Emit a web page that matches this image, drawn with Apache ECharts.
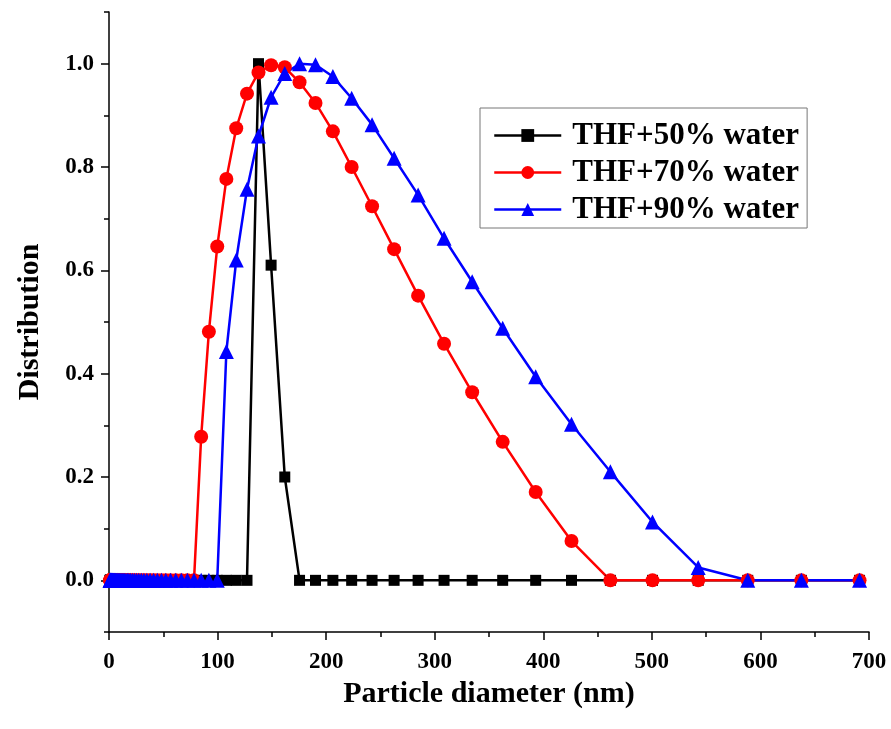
<!DOCTYPE html>
<html>
<head>
<meta charset="utf-8">
<script src="https://cdn.jsdelivr.net/npm/echarts@6/dist/echarts.min.js"></script>
<style>
  html, body { margin: 0; padding: 0; background: #fff; }
  #chart { width: 891px; height: 729px; }
</style>
</head>
<body>
<div id="chart"></div>
<script>
// particle size bins (nm)
const sizes = [
  1.0, 1.1, 1.2, 1.3, 1.4, 1.5, 1.6, 1.7, 1.9, 2.0,
  2.2, 2.4, 2.6, 2.8, 3.1, 3.3, 3.6, 3.9, 4.3, 4.6,
  5.0, 5.4, 5.9, 6.4, 6.9, 7.5, 8.2, 8.8, 9.6, 10.4,
  11.3, 12.2, 13.2, 14.4, 15.6, 16.9, 18.3, 19.8, 21.5, 23.3,
  25.3, 27.4, 29.7, 32.2, 34.9, 37.9, 41.1, 44.5, 48.3, 52.3,
  56.7, 61.5, 66.6, 72.2, 78.3, 84.9, 92.0, 99.7, 108.1, 117.2,
  127.1, 137.7, 149.3, 161.9, 175.5, 190.2, 206.2, 223.5, 242.3, 262.6,
  284.7, 308.6, 334.5, 362.6, 393.0, 426.0, 461.8, 500.6, 542.7, 588.3,
  637.7, 691.3
];

const thf50 = [
  0, 0, 0, 0, 0, 0, 0, 0, 0, 0,
  0, 0, 0, 0, 0, 0, 0, 0, 0, 0,
  0, 0, 0, 0, 0, 0, 0, 0, 0, 0,
  0, 0, 0, 0, 0, 0, 0, 0, 0, 0,
  0, 0, 0, 0, 0, 0, 0, 0, 0, 0,
  0, 0, 0, 0, 0, 0, 0, 0, 0, 0,
  0, 1.0, 0.61, 0.2, 0, 0, 0, 0, 0, 0,
  0, 0, 0, 0, 0, 0, 0, 0, 0, 0,
  0, 0
];

const thf70 = [
  0, 0, 0, 0, 0, 0, 0, 0, 0, 0,
  0, 0, 0, 0, 0, 0, 0, 0, 0, 0,
  0, 0, 0, 0, 0, 0, 0, 0, 0, 0,
  0, 0, 0, 0, 0, 0, 0, 0, 0, 0,
  0, 0, 0, 0, 0, 0, 0, 0, 0, 0,
  0, 0, 0, 0, 0, 0.278, 0.481, 0.646, 0.777, 0.875,
  0.942, 0.983, 0.997, 0.993, 0.964, 0.924, 0.869, 0.800, 0.724, 0.641,
  0.551, 0.458, 0.364, 0.268, 0.171, 0.076, 0, 0, 0, 0,
  0, 0
];

const thf90 = [
  0, 0, 0, 0, 0, 0, 0, 0, 0, 0,
  0, 0, 0, 0, 0, 0, 0, 0, 0, 0,
  0, 0, 0, 0, 0, 0, 0, 0, 0, 0,
  0, 0, 0, 0, 0, 0, 0, 0, 0, 0,
  0, 0, 0, 0, 0, 0, 0, 0, 0, 0,
  0, 0, 0, 0, 0, 0, 0, 0, 0.443, 0.620,
  0.757, 0.860, 0.935, 0.981, 1.0, 0.998, 0.975, 0.933, 0.882, 0.817,
  0.746, 0.662, 0.578, 0.488, 0.394, 0.302, 0.210, 0.113, 0.025, 0,
  0, 0
];

const seriesNames = ['THF+50% water', 'THF+70% water', 'THF+90% water'];
const yMajorTicks = [0, 0.2, 0.4, 0.6, 0.8, 1.0];

const font = 'Liberation Serif';

function pairs(vals) {
  return sizes.map((s, i) => [s, vals[i]]);
}

function lineSeries(name, vals, color, symbol, size) {
  return {
    name: name,
    type: 'line',
    data: pairs(vals),
    symbol: symbol,
    symbolSize: size,
    showSymbol: true,
    clip: false,
    lineStyle: { color: color, width: 2.5 },
    itemStyle: { color: color },
    emphasis: { disabled: true }
  };
}

const chart = echarts.init(document.getElementById('chart'));
chart.setOption({
  animation: false,
  backgroundColor: '#fff',
  grid: { left: 109, right: 22, top: 12, bottom: 97 },
  legend: {
    orient: 'vertical',
    left: 480,
    top: 108,
    padding: [12, 8, 3, 13],
    borderColor: '#777',
    borderWidth: 1,
    itemWidth: 67,
    itemHeight: 16,
    itemGap: 6,
    lineStyle: { width: 2.5 },
    textStyle: {
      fontFamily: font, fontWeight: 'bold', fontSize: 31, color: '#000',
      padding: [0, 0, 0, 6]
    },
    data: seriesNames
  },
  xAxis: {
    type: 'value',
    min: 0,
    max: 700,
    interval: 100,
    name: 'Particle diameter (nm)',
    nameLocation: 'middle',
    nameGap: 40,
    nameTextStyle: { fontFamily: font, fontWeight: 'bold', fontSize: 30, color: '#000' },
    axisLine: { show: true, onZero: false, lineStyle: { color: '#000', width: 1.5 } },
    axisTick: { show: true, length: 8, lineStyle: { color: '#000', width: 1.5 } },
    minorTick: { show: true, splitNumber: 2, length: 5, lineStyle: { color: '#000', width: 1.5 } },
    axisLabel: { margin: 19, fontFamily: font, fontWeight: 'bold', fontSize: 23, color: '#000' },
    splitLine: { show: false }
  },
  yAxis: [
    {
      type: 'value',
      min: -0.1,
      max: 1.1,
      interval: 0.1,
      name: 'Distribution',
      nameLocation: 'middle',
      nameRotate: 90,
      nameGap: 64,
      nameTextStyle: { fontFamily: font, fontWeight: 'bold', fontSize: 30, color: '#000' },
      axisLine: { show: true, onZero: false, lineStyle: { color: '#000', width: 1.5 } },
      axisTick: { show: true, length: 5, lineStyle: { color: '#000', width: 1.5 } },
      axisLabel: {
        margin: 15,
        fontFamily: font, fontWeight: 'bold', fontSize: 23, color: '#000',
        customValues: yMajorTicks,
        formatter: function (v) {
          const k = Math.round(v * 10);
          if (k < 0 || k > 10 || k % 2 !== 0) return '';
          return (k / 10).toFixed(1);
        }
      },
      splitLine: { show: false }
    },
    {
      type: 'value',
      min: -0.1,
      max: 1.1,
      interval: 0.1,
      position: 'left',
      axisLine: { show: false },
      axisTick: { show: true, length: 8, customValues: yMajorTicks, lineStyle: { color: '#000', width: 1.5 } },
      axisLabel: { show: false },
      splitLine: { show: false }
    }
  ],
  series: [
    lineSeries(seriesNames[0], thf50, '#000000', 'rect', 11),
    lineSeries(seriesNames[1], thf70, '#ff0000', 'circle', 14),
    lineSeries(seriesNames[2], thf90, '#0000ff', 'triangle', 15)
  ]
});
</script>
</body>
</html>
